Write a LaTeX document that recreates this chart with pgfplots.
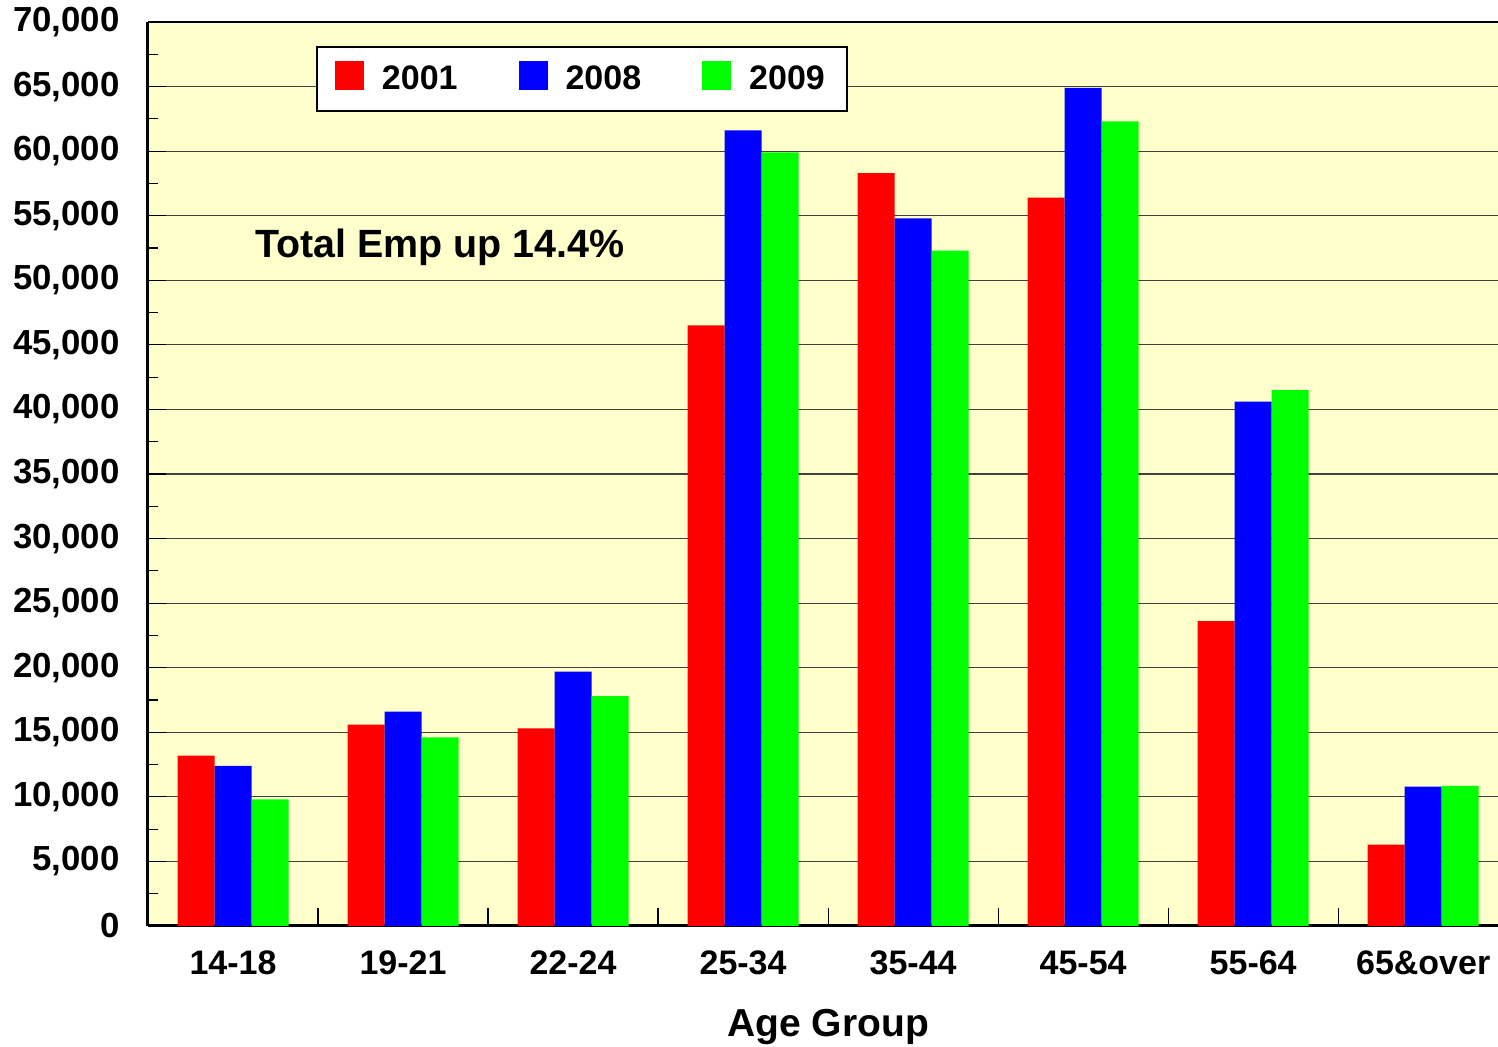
\documentclass[border=0pt]{standalone}
\usepackage{fontspec}
\setmainfont{Liberation Sans}
\usepackage{pgfplots}
\pgfplotsset{compat=1.18}
\definecolor{bgyellow}{HTML}{FFFFCC}
\definecolor{gridgray}{HTML}{404040}
\pgfplotsset{sqlegend/.style={legend image code/.code={\fill[##1] (0pt,-5.25pt) rectangle (14.5pt,9.25pt); \path (21.5pt,0pt);}}}
\begin{document}
\begin{tikzpicture}
\path[use as bounding box] (-74pt,-60.5pt) rectangle (675pt,463pt);
\begin{axis}[
  name=ax, at={(0,0)}, anchor=south west,
  scale only axis, width=675pt, height=452pt,
  xmin=-0.5, xmax=7.44, ymin=0, ymax=70000,
  ybar=0pt, bar width=18.5pt,
  axis background/.style={fill=bgyellow},
  axis x line*=bottom, axis y line*=left,
  axis line style={-, line width=1.5pt, black},
  tick pos=left, tick align=inside,
  major tick length=9pt, minor tick length=5pt,
  tick style={black, line width=0.6pt},
  xtick={0.5,1.5,...,6.5}, xticklabels={},
  extra x ticks={0,1,2,3,4,5,6,7},
  extra x tick labels={14-18,19-21,22-24,25-34,35-44,45-54,55-64,65\&over},
  extra x tick style={tick style={draw=none}, xticklabel style={anchor=base, yshift=-24.5pt}},
  ytick={0,5000,...,70000}, minor y tick num=1,
  ymajorgrids, major grid style={gridgray, line width=0.6pt},
  scaled y ticks=false,
  /pgf/number format/.cd, 1000 sep={,}, assume math mode=true, /pgfplots/.cd,
  ticklabel style={font=\bfseries\fontsize{17}{20}\selectfont},
  yticklabel style={inner sep=0pt, xshift=-14pt, font=\bfseries\fontsize{17.4}{20}\selectfont},
  xlabel={Age Group},
  xlabel style={at={(axis description cs:0.5038,0)}, anchor=base, yshift=-55.5pt, font=\bfseries\fontsize{19.5}{22}\selectfont},
  legend columns=3,
  legend style={at={(axis description cs:0.1244,0.9735)}, anchor=north west,
    draw=black, line width=1pt, fill=white, inner ysep=7pt, inner xsep=9pt,
    font=\bfseries\fontsize{17}{19}\selectfont,
    /tikz/every even column/.append style={column sep=28.5pt}},
]
\addplot[fill=red, draw=none, sqlegend] coordinates {(0,13200) (1,15600) (2,15300) (3,46500) (4,58300) (5,56400) (6,23600) (7,6300)};
\addplot[fill=blue, draw=none, sqlegend] coordinates {(0,12400) (1,16600) (2,19700) (3,61600) (4,54800) (5,64900) (6,40600) (7,10800)};
\addplot[fill=green, draw=none, sqlegend] coordinates {(0,9800) (1,14600) (2,17800) (3,59900) (4,52300) (5,62300) (6,41500) (7,10850)};
\legend{2001,2008,2009}
\node[anchor=base west, inner sep=0pt, font=\bfseries\fontsize{19.7}{22}\selectfont] at (axis cs:0.129,51730) {Total Emp up 14.4\%};
\end{axis}
\draw[black, line width=1pt] (ax.north west) -- (ax.north east);
\end{tikzpicture}
\end{document}
